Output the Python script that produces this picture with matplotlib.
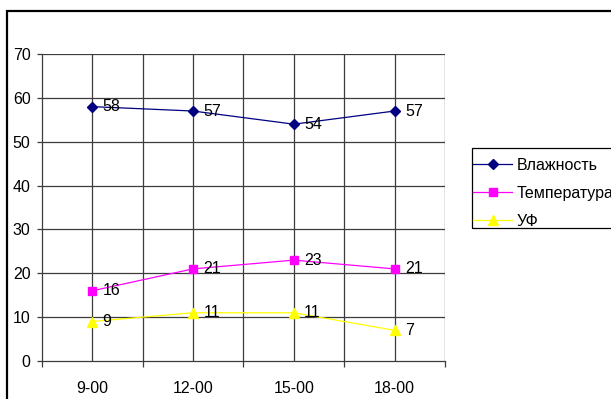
import matplotlib
matplotlib.use("Agg")
import matplotlib.pyplot as plt
from matplotlib.patches import Rectangle

plt.rcParams['font.family'] = ['Liberation Sans', 'DejaVu Sans']

# Data
times = ["9-00", "12-00", "15-00", "18-00"]
humidity = [58, 57, 54, 57]
temperature = [16, 21, 23, 21]
uv = [9, 11, 11, 7]
series_names = ["Влажность", "Температура", "УФ"]
y_ticks = [0, 10, 20, 30, 40, 50, 60, 70]

W, H = 611, 399
DPI = 100
FS = 11.5
fig = plt.figure(figsize=(W / DPI, H / DPI), dpi=DPI)
fig.patch.set_facecolor("white")

# outer chart frame (runs off the right and bottom edges)
fig.add_artist(Rectangle((7.5 / W, -0.05), 1.2, 1.05 - 11 / H, transform=fig.transFigure,
                         fill=False, edgecolor="black", linewidth=1.6, clip_on=False))

left, right, top, bottom = 41.7, 445, 54, 361
ax = fig.add_axes([left / W, 1 - bottom / H, (right - left) / W, (bottom - top) / H])

x = list(range(len(times)))
lw = 0.9
grid_c = "#3c3c3c"

# gridlines
for yv in y_ticks[1:]:
    ax.axhline(yv, color=grid_c, lw=lw, zorder=1)
for i in range(len(times)):
    ax.axvline(i, color=grid_c, lw=lw, zorder=1)
    ax.axvline(i + 0.5, color=grid_c, lw=lw, zorder=1)

ax.plot(x, humidity, color="#000080", lw=lw, marker="D", markersize=5.5, label=series_names[0], zorder=3)
ax.plot(x, temperature, color="#FF00FF", lw=lw, marker="s", markersize=5.5, label=series_names[1], zorder=3)
ax.plot(x, uv, color="#FFFF00", lw=lw, marker="^", markersize=6.5, label=series_names[2], zorder=3)

for vals in (humidity, temperature, uv):
    for xi, v in zip(x, vals):
        ax.annotate(str(v), (xi, v), xytext=(7.5, 0), textcoords="offset points",
                    ha="left", va="center", fontsize=FS, color="black", zorder=4)

ax.set_xlim(-0.5, 3.5)
ax.set_ylim(0, 70)
ax.set_yticks(y_ticks)
ax.set_yticklabels([str(v) for v in y_ticks])
ax.set_xticks([i - 0.5 for i in range(len(times) + 1)])
ax.set_xticklabels([])
ax.set_xticks(x, minor=True)
ax.set_xticklabels(times, minor=True)
ax.tick_params(axis="x", which="major", length=4, width=lw, color=grid_c, direction="out")
ax.tick_params(axis="x", which="minor", length=0, pad=14.5, labelsize=FS)
ax.tick_params(axis="y", length=3.5, width=lw, color=grid_c, pad=4.5, labelsize=FS)

for side in ("top", "right"):
    ax.spines[side].set_visible(False)
for side in ("left", "bottom"):
    ax.spines[side].set_color(grid_c)
    ax.spines[side].set_linewidth(lw)

# legend frame drawn separately so it can run off the right edge
fig.add_artist(Rectangle((472 / W, 1 - 228 / H), 0.3, 80 / H, transform=fig.transFigure,
                         fill=False, edgecolor="black", linewidth=0.9, clip_on=False))
leg = fig.legend(loc="upper left", bbox_to_anchor=(473 / W, 1 - 157.5 / H), bbox_transform=fig.transFigure,
                 fontsize=FS, frameon=False, borderpad=0,
                 handlelength=2.45, handletextpad=0.3, labelspacing=0.82, borderaxespad=0)

fig.savefig("out.png", dpi=DPI)
